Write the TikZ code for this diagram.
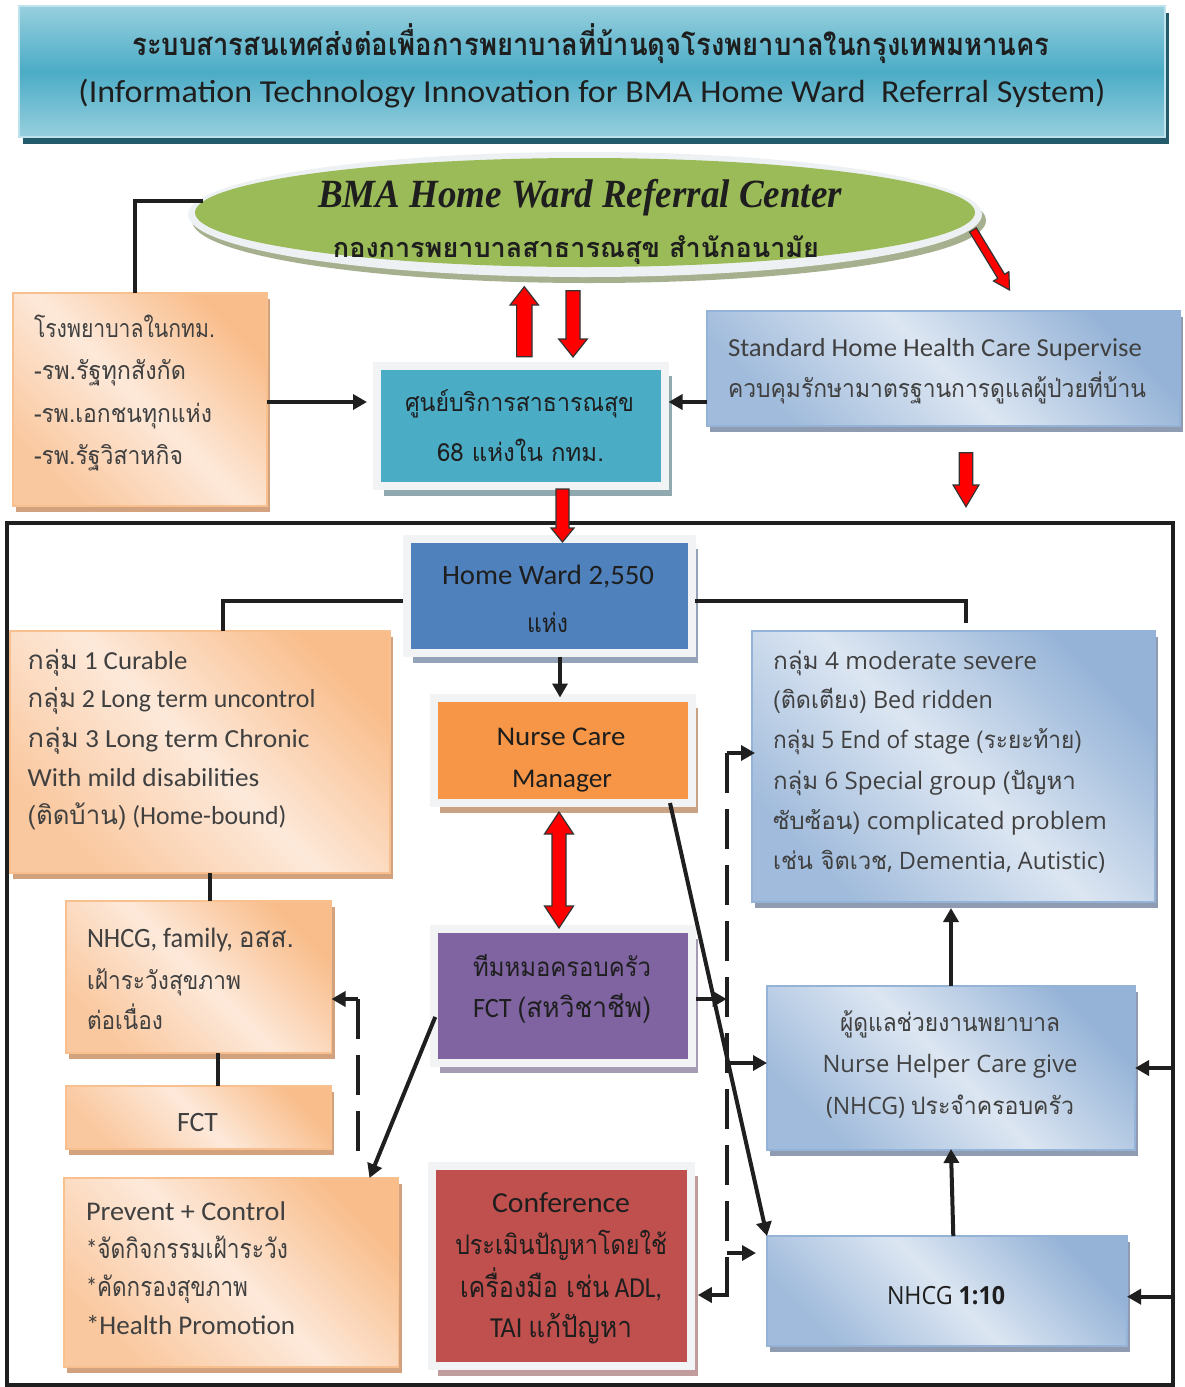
\documentclass[tikz,border=0pt]{standalone}
\usepackage{fontspec}
\usepackage{graphicx}
\usetikzlibrary{calc,arrows.meta,shadows,shapes.geometric}
\setmainfont{Carlito}
\newfontfamily\thf[Script=Thai]{Loma}
\newfontfamily\osf{Open Sans}
\newfontfamily\lsf{Liberation Serif}
\newcommand\fw[2]{\resizebox{#1pt}{\height}{#2}}
\newcommand\fs[1]{\fontsize{#1}{#1}\selectfont}
\definecolor{ttlTop}{HTML}{97CFDE}
\definecolor{ttlMid}{HTML}{4BACC6}
\definecolor{ttlBd}{HTML}{BFE3EC}
\definecolor{ttlSh}{HTML}{245B6A}
\definecolor{grn}{HTML}{9BBB59}
\definecolor{ring}{HTML}{EEF1F3}
\definecolor{ringSh}{HTML}{A7B08E}
\definecolor{pkD}{HTML}{F9BD8B}
\definecolor{pkL}{HTML}{FDE9DA}
\definecolor{pkBd}{HTML}{F9C08F}
\definecolor{pkSh}{HTML}{D2A27F}
\definecolor{blD}{HTML}{95B3D7}
\definecolor{blL}{HTML}{DCE6F2}
\definecolor{blSh}{HTML}{8E9BB0}
\definecolor{frm}{HTML}{F2F3F5}
\definecolor{cTeal}{HTML}{4BACC6}
\definecolor{cBlue}{HTML}{4F81BD}
\definecolor{cOrg}{HTML}{F79646}
\definecolor{cPur}{HTML}{8064A2}
\definecolor{cRed}{HTML}{C0504D}
\definecolor{shTeal}{HTML}{8FA9AF}
\definecolor{shBlue}{HTML}{94A3B8}
\definecolor{shOrg}{HTML}{C9A283}
\definecolor{shPur}{HTML}{A59CB4}
\definecolor{shRed}{HTML}{C19C9C}
\definecolor{txd}{HTML}{1E1E1E}
\definecolor{txg}{HTML}{404040}
\newcommand\bx[6]{\node[#1, rectangle, inner sep=0pt, outer sep=0pt, anchor=north west, minimum width={#5-#3}, minimum height={#6-#4}] (#2) at (#3,#4) {};}
\newcommand\rarrow[5]{%
  \path ($(#2)!#5!(#1)$) coordinate (rhb);
  \filldraw[rfill] ($(#1)!#3!90:(#2)$) -- ($(rhb)!#3!90:(#2)$) -- ($(rhb)!#4!90:(#2)$) -- (#2) -- ($(rhb)!#4!-90:(#2)$) -- ($(rhb)!#3!-90:(#2)$) -- ($(#1)!#3!-90:(#2)$) -- cycle;}
\newcommand\rdarrow[5]{%
  \path ($(#1)!#5!(#2)$) coordinate (rha) ($(#2)!#5!(#1)$) coordinate (rhc);
  \filldraw[rfill] (#1) -- ($(rha)!#4!90:(#2)$) -- ($(rha)!#3!90:(#2)$) -- ($(rhc)!#3!-90:(#1)$) -- ($(rhc)!#4!-90:(#1)$) -- (#2) -- ($(rhc)!#4!90:(#1)$) -- ($(rhc)!#3!90:(#1)$) -- ($(rha)!#3!-90:(#2)$) -- ($(rha)!#4!-90:(#2)$) -- cycle;}
\begin{document}
\begin{tikzpicture}[x=1pt,y=-1pt,
  ttl/.style={draw=ttlBd, line width=2pt, top color=ttlTop, bottom color=ttlTop, middle color=ttlMid, general shadow={fill=ttlSh, shadow xshift=4pt, shadow yshift=-7pt}},
  peach/.style={draw=pkBd, line width=1.5pt, left color=pkD!75!pkL, right color=pkD, middle color=pkL, shading angle=135, general shadow={fill=pkSh, shadow xshift=3pt, shadow yshift=-6pt}},
  blue/.style={draw=blD, line width=1.5pt, left color=blD!85!blL, right color=blD, middle color=blL, shading angle=135, general shadow={fill=blSh, shadow xshift=3pt, shadow yshift=-6pt}},
  sbox/.style 2 args={fill=#1, draw=frm, line width=8pt, general shadow={fill=#2, shadow xshift=6.5pt, shadow yshift=-10pt}},
  ln/.style={draw=black!88, line width=4pt},
  arr/.style={ln, -{Triangle[length=14pt,width=15pt]}},
  dsh/.style={ln, dash pattern=on 40pt off 16pt},
  rfill/.style={fill=red, draw=black!80, line width=1.2pt, line join=miter},
  tl/.style={inner sep=0pt, outer sep=0pt, anchor=west, text height=10.6pt, text depth=0pt, yshift=-4pt},
  tc/.style={inner sep=0pt, outer sep=0pt, anchor=center, text height=10.6pt, text depth=0pt, yshift=-4pt}
]
\useasboundingbox (0,0) rectangle (1184,1387);
\fill[white] (0,0) rectangle (1184,1387);

% ---------- title ----------
\bx{ttl}{title}{19}{6}{1165}{137}
\node[tc, text=txd, font={\thf\bfseries\fs{31}}] (t1) at (591,46) {\fw{917}{ระบบสารสนเทศส่งต่อเพื่อการพยาบาลที่บ้านดุจโรงพยาบาลในกรุงเทพมหานคร}};
\node[tc, text=txd, font={\fs{32}}] (t2) at (592,93) {\fw{1027}{(Information Technology Innovation for BMA Home Ward\ \ Referral System)}};

% ---------- ellipse ----------
\node[ellipse, inner sep=0pt, minimum width=794pt, minimum height=125pt, fill=ring, general shadow={fill=ringSh, shadow xshift=4pt, shadow yshift=-6pt}] (ering) at (585,214.5) {};
\node[ellipse, inner sep=0pt, minimum width=780pt, minimum height=109pt, fill=grn] (egrn) at (585,212.5) {};
\node[tc, text=txd, font={\lsf\bfseries\itshape\fs{40}}] (e1) at (580,198) {\fw{524}{BMA Home Ward Referral Center}};
\node[tc, text=txd, font={\thf\bfseries\fs{27}}] (e2) at (576,248) {\fw{486}{กองการพยาบาลสาธารณสุข สำนักอนามัย}};

% ---------- big frame ----------
\bx{draw=black!88, line width=4pt}{frame}{7}{523}{1173}{1385}

% ---------- boxes ----------
\bx{peach}{hosp}{13}{293}{267}{506}
\bx{sbox={cTeal}{shTeal}}{hc}{377}{366}{665}{485.5}
\bx{blue}{std}{707}{311}{1180}{426}
\bx{sbox={cBlue}{shBlue}}{hw}{406.5}{538.5}{691.5}{653}
\bx{sbox={cOrg}{shOrg}}{nc}{433.75}{697.5}{691.5}{803}
\bx{peach}{g13}{10}{631}{390}{873}
\bx{blue}{g46}{752}{631}{1155}{902}
\bx{peach}{nfam}{66}{901}{331.5}{1053}
\bx{peach}{fct}{66}{1086}{331}{1149}
\bx{peach}{prev}{64}{1178}{398.5}{1367}
\bx{sbox={cPur}{shPur}}{pt}{433.75}{928.85}{691.5}{1062.5}
\bx{sbox={cRed}{shRed}}{conf}{431.5}{1165.5}{691.3}{1366.3}
\bx{blue}{cg}{767}{986}{1135}{1150}
\bx{blue}{n110}{767}{1236}{1127}{1346}

% ---------- black connectors ----------
\coordinate (eL) at (203,200.7);
\draw[ln] (eL) -| ([xshift=-5pt]hosp.north);
\coordinate (y402) at (0,402);
\draw[arr, shorten >=10pt] (hosp.east |- y402) -- (hc.west |- y402);
\draw[arr, shorten >=3.5pt] (std.west |- y402) -- (hc.east |- y402);
\coordinate (hwl) at ([xshift=-3.5pt,yshift=-5pt]hw.west);
\coordinate (g13n) at ([xshift=23pt]g13.north);
\draw[ln] (hwl) -| (g13n);
\coordinate (hwr) at ([xshift=3.5pt,yshift=-5pt]hw.east);
\coordinate (g46n) at (966,623);
\draw[ln] (hwr) -| (g46n);
\coordinate (hws) at ([xshift=11pt,yshift=-3.5pt]hw.south);
\draw[arr] (hws) -- (hws |- nc.north);
\coordinate (c210) at (210,0);
\draw[ln] (g13.south -| c210) -- (nfam.north -| c210);
\coordinate (c218) at (218,0);
\draw[ln] (nfam.south -| c218) -- (fct.north -| c218);
\coordinate (ptl) at ([xshift=1.5pt,yshift=-21.25pt]pt.west);
\coordinate (prn) at ([xshift=-29pt]prev.north east);
\draw[arr] (ptl) -- (prn);
\coordinate (dl1) at (358,999);
\coordinate (dl2) at (358,1163);
\draw[dsh] (dl1) -- (dl2);
\draw[arr] (dl1) -- (nfam.east |- dl1);
\draw[arr] ([xshift=-21.5pt]nc.south east) -- (n110.north west);
\coordinate (dr1) at (726.7,753);
\coordinate (dr2) at (726.7,1297);
\draw[dsh] (dr1) -- (dr2);
\draw[arr, shorten >=-3pt] (dr1) -- (g46.west |- dr1);
\coordinate (dra) at (726.7,999);
\draw[arr, shorten <=4pt] (pt.east |- dra) -- (dra);
\coordinate (drb) at (726.7,1063);
\draw[arr] (drb) -- (cg.west |- drb);
\coordinate (drc) at (726.7,1253);
\coordinate (drc2) at (756,1253);
\draw[arr] (drc) -- (drc2);
\coordinate (drd) at (726.7,1295);
\draw[arr, shorten >=6.5pt] (drd) -- (conf.east |- drd);
\draw[arr] (frame.east |- cg.east) -- (cg.east);
\coordinate (y1297) at (0,1296.7);
\draw[arr] (frame.east |- y1297) -- (n110.east |- y1297);
\draw[arr, shorten >=6pt] (cg.north) -- (g46.south -| cg.north);
\draw[arr, shorten >=-1pt] ([xshift=6.3pt]n110.north) -- (cg.south);

% ---------- red block arrows ----------
\coordinate (ru1) at (524.3,356.7); \coordinate (ru2) at (524.3,286.7);
\rarrow{ru1}{ru2}{7.7pt}{14.2pt}{18.3pt}
\coordinate (rd1) at (573,290.7); \coordinate (rd2) at (573,357);
\rarrow{rd1}{rd2}{7pt}{14.3pt}{18pt}
\coordinate (rg1) at (973,230); \coordinate (rg2) at (1009.5,290);
\rarrow{rg1}{rg2}{4pt}{9pt}{16pt}
\coordinate (rs1) at (966,452.7); \coordinate (rs2) at (966,506.7);
\rarrow{rs1}{rs2}{6.8pt}{12.9pt}{21.7pt}
\coordinate (rh1) at (562.5,489); \coordinate (rh2) at (562.5,542);
\rarrow{rh1}{rh2}{6.5pt}{11.5pt}{14pt}
\coordinate (rn1) at (559,812); \coordinate (rn2) at (559,928);
\rdarrow{rn1}{rn2}{7pt}{14.5pt}{22pt}

% ---------- texts ----------
% hospitals
\node[tl, text=txg, font={\thf\fs{25}}] (h1) at (34,328) {\fw{181}{โรงพยาบาลในกทม.}};
\node[tl, text=txg, font={\thf\fs{25}}] (h2) at (34,370) {\fw{152}{-รพ.รัฐทุกสังกัด}};
\node[tl, text=txg, font={\thf\fs{25}}] (h3) at (34,413) {\fw{178}{-รพ.เอกชนทุกแห่ง}};
\node[tl, text=txg, font={\thf\fs{25}}] (h4) at (34,455) {\fw{149}{-รพ.รัฐวิสาหกิจ}};
% health centre
\node[tc, text=txd, font={\thf\fs{25}}] (hc1) at (519.5,402) {\fw{229}{ศูนย์บริการสาธารณสุข}};
\node[tc, text=txd, font={\thf\fs{25}}] (hc2) at (520.5,452) {\fw{167}{68 แห่งใน กทม.}};
% standard
\node[tl, text=txg, font={\fs{26}}] (s1) at (728,347) {\fw{414}{Standard Home Health Care Supervise}};
\node[tl, text=txg, font={\thf\fs{25}}] (s2) at (728,388) {\fw{418}{ควบคุมรักษามาตรฐานการดูแลผู้ป่วยที่บ้าน}};
% home ward
\node[tc, text=txd, font={\fs{28}}] (hw1) at (548,575) {\fw{212}{Home Ward 2,550}};
\node[tc, text=txd, font={\thf\fs{26}}] (hw2) at (547.5,623) {\fw{41}{แห่ง}};
% nurse care manager
\node[tc, text=txd, font={\fs{27}}] (nc1) at (561,736) {\fw{129}{Nurse Care}};
\node[tc, text=txd, font={\fs{27}}] (nc2) at (562,778) {\fw{100}{Manager}};
% group 1-3
\node[tl, text=txg, font={\fs{26}}] (a1) at (27.5,660) {\fw{160}{{\thf กลุ่ม} 1 Curable}};
\node[tl, text=txg, font={\fs{26}}] (a2) at (27.5,698) {\fw{288}{{\thf กลุ่ม} 2 Long term uncontrol}};
\node[tl, text=txg, font={\fs{26}}] (a3) at (27.5,738) {\fw{282}{{\thf กลุ่ม} 3 Long term Chronic}};
\node[tl, text=txg, font={\fs{26}}] (a4) at (27.5,777) {\fw{232}{With mild disabilities}};
\node[tl, text=txg, font={\fs{26}}] (a5) at (27.5,815) {\fw{259}{{\thf (ติดบ้าน)} (Home-bound)}};
% group 4-6
\node[tl, text=txg, font={\osf\fs{24}}] (b1) at (773,660) {\fw{264}{{\thf กลุ่ม} 4 moderate severe}};
\node[tl, text=txg, font={\osf\fs{24}}] (b2) at (773,699) {\fw{220}{{\thf (ติดเตียง)} Bed ridden}};
\node[tl, text=txg, font={\osf\fs{24}}] (b3) at (773,739) {\fw{309}{{\thf กลุ่ม} 5 End of stage {\thf (ระยะท้าย)}}};
\node[tl, text=txg, font={\osf\fs{24}}] (b4) at (773,780) {\fw{303}{{\thf กลุ่ม} 6 Special group {\thf (ปัญหา}}};
\node[tl, text=txg, font={\osf\fs{24}}] (b5) at (773,820) {\fw{334}{{\thf ซับซ้อน)} complicated problem}};
\node[tl, text=txg, font={\osf\fs{24}}] (b6) at (773,860) {\fw{332}{{\thf เช่น จิตเวช}, Dementia, Autistic)}};
% NHCG family
\node[tl, text=txg, font={\fs{28}}] (f1) at (87,938) {\fw{207}{NHCG, family, {\thf อสส.}}};
\node[tl, text=txg, font={\thf\fs{25}}] (f2) at (87,980) {\fw{154}{เฝ้าระวังสุขภาพ}};
\node[tl, text=txg, font={\thf\fs{25}}] (f3) at (87,1020) {\fw{76}{ต่อเนื่อง}};
% FCT
\node[tc, text=txg, font={\fs{28}}] (fc1) at (197.5,1121.7) {\fw{41}{FCT}};
% prevent
\node[tl, text=txg, font={\fs{27}}] (p1) at (86,1211) {\fw{200}{Prevent + Control}};
\node[tl, text=txg, font={\fs{27}}] (p2) at (86,1249) {\fw{202}{*{\thf จัดกิจกรรมเฝ้าระวัง}}};
\node[tl, text=txg, font={\fs{27}}] (p3) at (86,1287) {\fw{162}{*{\thf คัดกรองสุขภาพ}}};
\node[tl, text=txg, font={\fs{27}}] (p4) at (86,1325) {\fw{209}{*Health Promotion}};
% family care team
\node[tc, text=txd, font={\thf\fs{26}}] (q1) at (562,966.7) {\fw{178}{ทีมหมอครอบครัว}};
\node[tc, text=txd, font={\fs{28}}] (q2) at (562,1008) {\fw{178}{FCT {\thf (สหวิชาชีพ)}}};
% conference
\node[tc, text=txd, font={\fs{29}}] (k1) at (561,1203) {\fw{138}{Conference}};
\node[tc, text=txd, font={\thf\fs{27}}] (k2) at (561,1245) {\fw{212}{ประเมินปัญหาโดยใช้}};
\node[tc, text=txd, font={\fs{29}}] (k3) at (561,1288) {\fw{202}{{\thf เครื่องมือ เช่น} ADL,}};
\node[tc, text=txd, font={\fs{29}}] (k4) at (561,1328) {\fw{142}{TAI {\thf แก้ปัญหา}}};
% caregiver
\node[tc, text=txg, font={\thf\fs{25}}] (c1) at (950,1022) {\fw{220}{ผู้ดูแลช่วยงานพยาบาล}};
\node[tc, text=txg, font={\osf\fs{24}}] (c2) at (950,1063) {\fw{255}{Nurse Helper Care give}};
\node[tc, text=txg, font={\osf\fs{24}}] (c3) at (950,1105) {\fw{248}{(NHCG) {\thf ประจำครอบครัว}}};
% NHCG 1:10
\node[tc, text=txd, font={\osf\fs{25}}] (n1) at (946,1295) {\fw{118}{NHCG {\bfseries 1:10}}};
\end{tikzpicture}
\end{document}
